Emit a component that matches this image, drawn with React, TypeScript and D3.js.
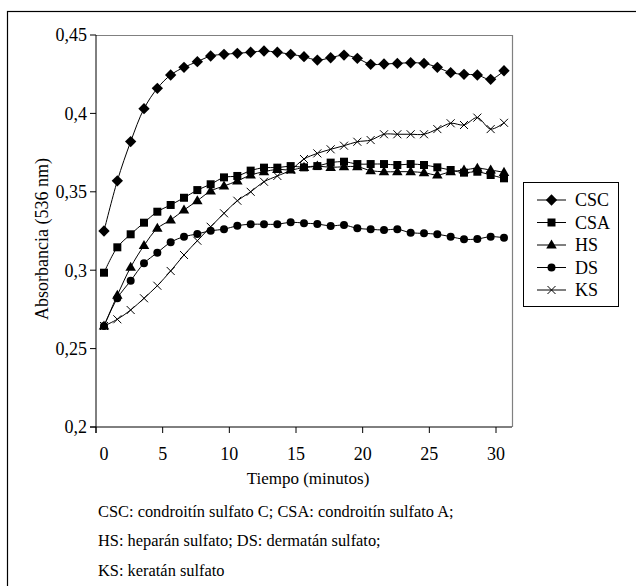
import { useEffect, useRef } from "react";
import * as d3 from "d3";

const tiempo = [0.6, 1.6, 2.6, 3.6, 4.6, 5.6, 6.6, 7.6, 8.6, 9.6, 10.6, 11.6, 12.6, 13.6, 14.6, 15.6, 16.6, 17.6, 18.6, 19.6, 20.6, 21.6, 22.6, 23.6, 24.6, 25.6, 26.6, 27.6, 28.6, 29.6, 30.6];

const csc = [0.325, 0.357, 0.382, 0.403, 0.416, 0.4245, 0.4294, 0.433, 0.4366, 0.4377, 0.4383, 0.439, 0.4398, 0.439, 0.4377, 0.4362, 0.434, 0.4355, 0.4372, 0.4351, 0.4313, 0.4315, 0.4319, 0.4323, 0.4319, 0.4294, 0.426, 0.4249, 0.4245, 0.4217, 0.4272];
const csa = [0.2984, 0.3146, 0.3229, 0.3303, 0.3373, 0.3416, 0.3462, 0.3511, 0.3548, 0.3592, 0.3601, 0.3635, 0.3654, 0.3654, 0.3664, 0.3656, 0.3664, 0.3686, 0.3692, 0.3677, 0.3677, 0.3677, 0.3671, 0.3677, 0.3671, 0.3656, 0.3639, 0.3622, 0.3628, 0.3607, 0.3586];
const hs = [0.2644, 0.284, 0.3019, 0.3157, 0.3267, 0.332, 0.3384, 0.3443, 0.3505, 0.3537, 0.3569, 0.3607, 0.3628, 0.3643, 0.3639, 0.3656, 0.3664, 0.3656, 0.366, 0.366, 0.3635, 0.3628, 0.3628, 0.3628, 0.3622, 0.3607, 0.3628, 0.3639, 0.365, 0.3639, 0.3624];
const ds = [0.2644, 0.2821, 0.2933, 0.3044, 0.3112, 0.3178, 0.3214, 0.3231, 0.3252, 0.3261, 0.3284, 0.3293, 0.3293, 0.3293, 0.3306, 0.33, 0.3295, 0.3282, 0.3288, 0.3267, 0.3261, 0.3256, 0.3261, 0.3239, 0.3235, 0.3229, 0.3214, 0.3197, 0.3199, 0.3214, 0.3207];
const ks = [0.2644, 0.2687, 0.2746, 0.2821, 0.2901, 0.2995, 0.3097, 0.3188, 0.3277, 0.3363, 0.3443, 0.35, 0.3564, 0.3601, 0.3639, 0.3709, 0.3745, 0.3771, 0.3794, 0.3819, 0.383, 0.3867, 0.3867, 0.3867, 0.3867, 0.39, 0.3937, 0.3926, 0.3973, 0.39, 0.394];

const seriesNames = ["CSC", "CSA", "HS", "DS", "KS"];
const xTicks = [0, 5, 10, 15, 20, 25, 30];
const yTicks = [0.2, 0.25, 0.3, 0.35, 0.4, 0.45];
const notas = [
  "CSC: condroitín sulfato C; CSA: condroitín sulfato A;",
  "HS: heparán sulfato; DS: dermatán sulfato;",
  "KS: keratán sulfato",
];

const FONT = '"Liberation Serif", "DejaVu Serif", "Times New Roman", Times, serif';

// dibuja el marcador de cada serie en (0,0)
function drawMarker(g: d3.Selection<SVGGElement, unknown, null, undefined>, name: string) {
  if (name === "CSC") {
    g.append("path").attr("d", d3.symbol(d3.symbolSquare, 64)()!).attr("transform", "rotate(45)").attr("fill", "#000");
  } else if (name === "CSA") {
    g.append("path").attr("d", d3.symbol(d3.symbolSquare, 64)()!).attr("fill", "#000");
  } else if (name === "HS") {
    g.append("path").attr("d", d3.symbol(d3.symbolTriangle, 48)()!).attr("transform", "translate(0,0.5)").attr("fill", "#000");
  } else if (name === "DS") {
    g.append("circle").attr("r", 4).attr("fill", "#000");
  } else {
    g.append("path").attr("d", "M-4,-4L4,4M-4,4L4,-4").attr("stroke", "#000").attr("stroke-width", 1).attr("fill", "none");
  }
}

export default function App() {
  const svgRef = useRef<SVGSVGElement | null>(null);
  const width = 636;
  const height = 586;

  useEffect(() => {
    if (!svgRef.current) return;
    const svg = d3.select(svgRef.current);
    svg.selectAll("*").remove();

    const left = 96, right = 512, top = 35, bottom = 427;
    const x = d3.scaleLinear().domain([0, 31.2]).range([left, right]);
    const y = d3.scaleLinear().domain([0.2, 0.45]).range([bottom, top]);

    svg.append("rect").attr("width", width).attr("height", height).attr("fill", "#fff");
    // marco exterior
    svg.append("rect").attr("x", 7.5).attr("y", 11.5).attr("width", 700).attr("height", 700)
      .attr("fill", "none").attr("stroke", "#000").attr("stroke-width", 1.2);

    // borde del área de trazado
    svg.append("path").attr("d", `M${left},${top + 0.5}H${right + 0.5}V${bottom}`)
      .attr("fill", "none").attr("stroke", "#808080").attr("stroke-width", 1.2);

    const txt = (sel: d3.Selection<any, unknown, null, undefined>, size: number) =>
      sel.append("text").style("font-family", FONT).style("font-size", `${size}px`).attr("fill", "#000");

    // ejes
    const yAxis = svg.append("g");
    yAxis.append("line").attr("x1", left).attr("x2", left).attr("y1", top).attr("y2", bottom + 6).attr("stroke", "#000");
    yTicks.forEach((t) => {
      yAxis.append("line").attr("x1", left - 6).attr("x2", left).attr("y1", y(t)).attr("y2", y(t)).attr("stroke", "#000");
      txt(yAxis, 18).attr("x", 87).attr("y", y(t)).attr("dy", "0.35em").attr("text-anchor", "end")
        .text(d3.format(".2~f")(t).replace(".", ","));
    });

    const xAxis = svg.append("g");
    xAxis.append("line").attr("x1", left - 6).attr("x2", right).attr("y1", bottom).attr("y2", bottom).attr("stroke", "#000");
    xTicks.forEach((t) => {
      xAxis.append("line").attr("x1", x(t)).attr("x2", x(t)).attr("y1", bottom).attr("y2", bottom + 6).attr("stroke", "#000");
      txt(xAxis, 18).attr("x", t === 0 ? x(t) + 8 : x(t)).attr("y", 454).attr("dy", "0.35em").attr("text-anchor", "middle")
        .text(String(t));
    });

    txt(svg, 17).attr("x", 308).attr("y", 478).attr("dy", "0.35em").attr("text-anchor", "middle").text("Tiempo (minutos)");
    txt(svg, 18).attr("transform", `translate(42,${(top + bottom) / 2 + 8}) rotate(-90)`).attr("dy", "0.35em")
      .attr("text-anchor", "middle").text("Absorbancia (536 nm)");

    // series
    const allSeries = [csc, csa, hs, ds, ks];
    const line = d3.line<number>()
      .x((_, i) => x(tiempo[i]))
      .y((d) => y(d))
      .curve(d3.curveCatmullRom.alpha(0.5));

    allSeries.forEach((vals, k) => {
      const g = svg.append("g");
      g.append("path").attr("d", line(vals)).attr("fill", "none").attr("stroke", "#000").attr("stroke-width", 1);
      vals.forEach((v, i) => {
        const m = g.append("g").attr("transform", `translate(${x(tiempo[i])},${y(v)})`);
        drawMarker(m, seriesNames[k]);
      });
    });

    // leyenda
    const leg = svg.append("g");
    leg.append("rect").attr("x", 523.5).attr("y", 182.5).attr("width", 95).attr("height", 124)
      .attr("fill", "#fff").attr("stroke", "#000").attr("stroke-width", 1);
    seriesNames.forEach((name, i) => {
      const ly = 200 + i * 22.5;
      leg.append("line").attr("x1", 537).attr("x2", 566).attr("y1", ly).attr("y2", ly).attr("stroke", "#000");
      drawMarker(leg.append("g").attr("transform", `translate(551.5,${ly})`), name);
      txt(leg, 18).attr("x", 575).attr("y", ly).attr("dy", "0.35em").text(name);
    });

    // notas al pie
    notas.forEach((n, i) => {
      txt(svg, 16.4).attr("x", 98).attr("y", 511 + i * 29.5).attr("dy", "0.35em").text(n);
    });
  }, []);

  return (
    <svg ref={svgRef} width={width} height={height} style={{ position: "absolute", left: 0, top: 0 }}></svg>
  );
}
